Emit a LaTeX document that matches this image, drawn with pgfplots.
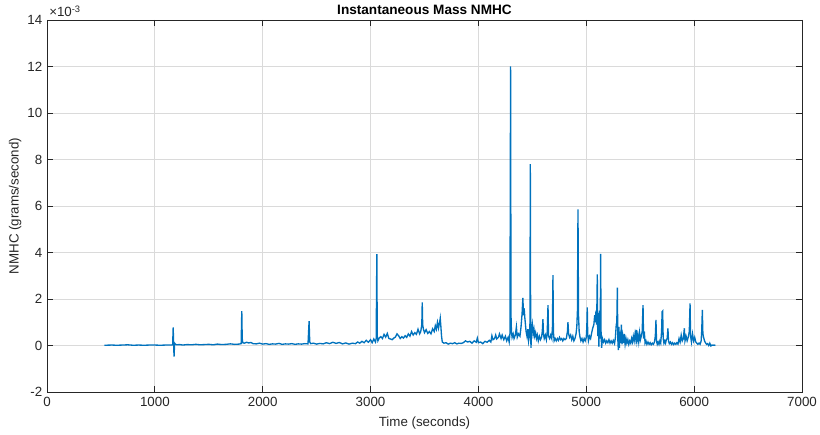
\documentclass[border=0pt]{standalone}
\usepackage{fontspec}
\setmainfont{Liberation Sans}
\usepackage{pgfplots}
\pgfplotsset{compat=1.18}
\definecolor{mblue}{RGB}{0,114,189}
\definecolor{axgray}{RGB}{38,38,38}
\definecolor{gridgray}{RGB}{218,218,218}
\begin{document}
\begin{tikzpicture}
\begin{axis}[
  scale only axis, width=566.25pt, height=279pt,
  xmin=0, xmax=7000, ymin=-2, ymax=14,
  xtick={0,1000,...,7000}, ytick={-2,0,...,14},
  grid=major, major grid style={color=gridgray, line width=0.6pt},
  tick align=inside, major tick length=4.5pt,
  axis line style={color=axgray, line width=0.6pt},
  tick style={color=axgray, line width=0.6pt},
  /pgf/number format/assume math mode=true,
  x tick label style={/pgf/number format/1000 sep={}},
  every tick label/.append style={font=\fontsize{10}{12}\selectfont, color=axgray},
  scaled y ticks=false,
  xlabel={Time (seconds)}, ylabel={NMHC (grams/second)},
  label style={font=\fontsize{10}{12}\selectfont, color=axgray},
  xlabel shift=1.5pt, ylabel shift=-2.25pt,
  clip=true,
]
\addplot[color=mblue, line width=1pt] table {
x y
532 0.01
600 0.02
650 0.01
700 0.02
750 0.03
800 0.01
850 0.02
900 0.01
950 0.02
1000 0.02
1050 0.01
1100 0.02
1150 0.02
1165 0.03
1170 0.78
1174 0.05
1178 -0.48
1183 0.10
1190 0.06
1200 0.03
1230 0.04
1260 0.02
1300 0.04
1340 0.03
1380 0.05
1420 0.03
1460 0.04
1500 0.05
1540 0.03
1580 0.06
1620 0.04
1660 0.05
1700 0.07
1740 0.05
1780 0.06
1800 0.08
1806 1.48
1810 0.30
1815 0.12
1830 0.10
1850 0.14
1870 0.11
1890 0.13
1910 0.08
1940 0.07
1970 0.10
2000 0.06
2030 0.08
2060 0.05
2090 0.07
2120 0.06
2150 0.09
2180 0.05
2210 0.07
2240 0.06
2270 0.08
2300 0.05
2330 0.07
2360 0.06
2390 0.08
2420 0.07
2430 1.05
2436 0.15
2445 0.08
2470 0.10
2500 0.06
2530 0.09
2560 0.07
2590 0.12
2620 0.08
2650 0.14
2680 0.09
2710 0.13
2740 0.07
2770 0.11
2800 0.06
2830 0.10
2860 0.08
2880 0.15
2900 0.10
2920 0.18
2940 0.12
2960 0.22
2980 0.14
3000 0.25
3015 0.12
3030 0.28
3045 0.15
3052 0.30
3058 3.93
3062 0.40
3068 0.20
3080 0.32
3095 0.38
3110 0.30
3125 0.48
3140 0.36
3155 0.52
3170 0.30
3185 0.28
3200 0.25
3215 0.32
3230 0.36
3245 0.50
3260 0.42
3275 0.30
3290 0.38
3305 0.32
3320 0.42
3335 0.35
3350 0.50
3365 0.40
3380 0.60
3395 0.45
3410 0.55
3425 0.48
3440 0.70
3455 0.50
3465 0.60
3475 0.90
3479 1.85
3483 0.90
3490 0.70
3500 0.55
3515 0.68
3530 0.52
3545 0.60
3560 0.50
3575 0.72
3590 0.60
3600 0.85
3610 0.70
3620 1.00
3630 0.75
3640 1.00
3646 1.17
3652 0.80
3658 0.40
3665 0.15
3680 0.10
3700 0.12
3720 0.06
3740 0.10
3760 0.08
3780 0.12
3800 0.07
3820 0.10
3840 0.09
3860 0.12
3880 0.20
3900 0.15
3920 0.18
3940 0.10
3960 0.20
3980 0.14
3990 0.32
4000 0.12
4020 0.15
4040 0.08
4060 0.18
4080 0.14
4100 0.22
4115 0.15
4125 0.42
4135 0.25
4150 0.30
4160 0.45
4170 0.28
4185 0.35
4195 0.50
4210 0.30
4220 0.45
4235 0.25
4250 0.40
4262 0.20
4275 0.35
4285 0.15
4292 0.50
4298 12.00
4302 1.30
4306 0.60
4312 0.35
4322 0.50
4330 0.30
4342 0.45
4352 0.80
4360 0.35
4372 0.50
4385 0.40
4395 0.80
4405 1.40
4412 2.05
4418 1.30
4424 1.60
4430 1.20
4436 0.90
4442 0.60
4450 0.40
4458 0.70
4465 0.20
4472 0.40
4478 1.00
4481 7.80
4484 1.00
4487 -0.10
4493 0.60
4500 0.90
4508 0.50
4515 0.70
4522 0.40
4530 0.55
4538 0.30
4546 0.45
4555 0.20
4565 0.40
4575 0.25
4585 0.35
4592 0.60
4598 1.13
4603 0.50
4610 0.30
4620 0.45
4630 0.25
4638 0.60
4645 1.74
4650 0.40
4660 0.30
4670 0.45
4680 0.30
4686 0.80
4691 3.03
4695 0.60
4702 0.20
4712 0.30
4722 0.20
4732 0.30
4742 0.22
4752 0.35
4762 0.25
4772 0.30
4782 0.20
4792 0.30
4802 0.25
4815 0.30
4825 0.60
4830 1.00
4836 0.50
4845 0.35
4855 0.45
4865 0.25
4875 0.40
4885 0.20
4895 0.30
4905 0.50
4912 0.80
4918 1.50
4923 5.85
4928 1.30
4934 0.60
4942 0.35
4950 0.20
4960 0.30
4970 0.15
4980 0.30
4990 0.20
5000 0.35
5005 0.80
5009 1.64
5013 0.50
5020 0.20
5030 0.40
5040 0.30
5050 0.55
5060 0.75
5070 0.90
5078 1.30
5084 1.00
5090 1.50
5096 0.90
5102 3.06
5106 0.40
5112 1.40
5117 -0.05
5123 1.50
5129 0.30
5133 3.94
5137 0.60
5142 -0.10
5150 0.30
5160 0.15
5170 0.25
5180 0.10
5190 0.20
5200 0.12
5210 0.25
5220 0.10
5230 0.20
5240 0.10
5250 0.22
5262 0.08
5270 0.35
5278 0.90
5283 1.00
5288 2.49
5292 0.30
5297 -0.20
5302 0.80
5307 -0.10
5313 0.60
5319 0.10
5325 0.90
5331 0.05
5338 0.40
5345 0.10
5352 0.50
5360 0.05
5368 0.30
5376 0.10
5385 0.25
5394 0.05
5403 0.20
5412 0.10
5420 0.30
5428 0.15
5436 0.40
5444 0.20
5452 0.50
5458 0.30
5464 0.67
5470 0.20
5478 0.45
5486 0.15
5494 0.55
5502 0.25
5510 0.40
5518 0.60
5526 1.74
5531 0.30
5538 0.60
5545 0.10
5553 0.20
5562 0.05
5572 0.15
5582 0.05
5592 0.12
5602 0.03
5612 0.10
5622 0.05
5632 0.15
5640 0.40
5646 1.10
5651 0.20
5658 0.05
5666 0.15
5674 0.05
5682 0.20
5690 0.10
5698 0.60
5703 1.45
5708 1.48
5713 0.30
5720 0.10
5728 0.20
5735 0.10
5742 0.25
5750 0.30
5757 0.74
5762 0.20
5770 0.08
5780 0.15
5790 0.05
5800 0.12
5810 0.04
5820 0.10
5830 0.05
5840 0.12
5850 0.06
5860 0.30
5870 0.15
5880 0.45
5890 0.20
5900 0.30
5909 0.74
5915 0.20
5925 0.40
5935 0.20
5945 0.35
5955 0.60
5962 1.81
5967 0.40
5975 0.15
5985 0.50
5995 0.20
6005 0.35
6015 0.15
6025 0.10
6035 0.05
6045 0.10
6055 0.05
6065 0.20
6070 0.60
6076 1.53
6081 0.50
6088 0.35
6096 0.20
6105 0.12
6115 0.05
6125 0.08
6135 0.00
6145 0.10
6155 -0.02
6165 0.02
6175 0.01
6185 0.02
6197 0.00
};
\coordinate (bl) at (rel axis cs:0,0);
\coordinate (tr) at (rel axis cs:1,1);
\coordinate (tl) at (rel axis cs:0,1);
\coordinate (tc) at (rel axis cs:0.5,1);
\end{axis}
\node[anchor=base, inner sep=0pt, font=\bfseries\fontsize{10.2}{12}\selectfont, color=black] at ([yshift=3.75pt]tc) {Instantaneous Mass NMHC};
\node[anchor=base west, inner sep=0pt, font=\fontsize{10}{12}\selectfont, color=axgray] at ([xshift=1.5pt,yshift=2.25pt]tl) {×10\textsuperscript{-3}};
\pgfresetboundingbox
\path ([shift={(-35.25pt,-31.5pt)}]bl) rectangle ([shift={(13.5pt,15pt)}]tr);
\end{tikzpicture}
\end{document}
